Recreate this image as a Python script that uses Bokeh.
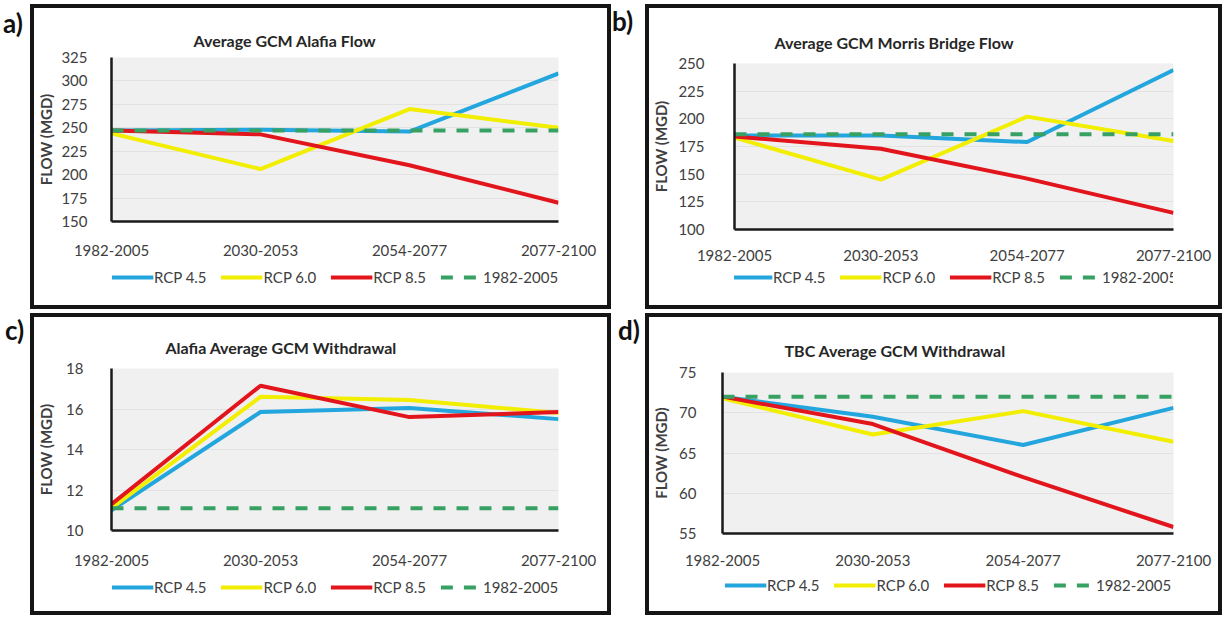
from bokeh.plotting import figure
from bokeh.models import (FixedTicker, Legend, LegendItem, Title, Div, Row,
                          Column, Spacer)
from bokeh.embed import file_html
from bokeh.resources import INLINE

# Time periods on the x axis
periods = ["1982-2005", "2030-2053", "2054-2077", "2077-2100"]
series_labels = ["RCP 4.5", "RCP 6.0", "RCP 8.5", "1982-2005"]

# a) Average GCM Alafia Flow (MGD)
alafia_flow_rcp45 = [247, 248, 246, 308]
alafia_flow_rcp60 = [244, 206, 270, 250]
alafia_flow_rcp85 = [247, 243, 210, 170]
alafia_flow_base = [247, 247, 247, 247]

# b) Average GCM Morris Bridge Flow (MGD)
morris_flow_rcp45 = [185, 185, 179, 244]
morris_flow_rcp60 = [183, 145, 202, 180]
morris_flow_rcp85 = [184, 173, 146, 115]
morris_flow_base = [186, 186, 186, 186]

# c) Alafia Average GCM Withdrawal (MGD)
alafia_wd_rcp45 = [11.0, 15.85, 16.05, 15.5]
alafia_wd_rcp60 = [11.1, 16.6, 16.45, 15.8]
alafia_wd_rcp85 = [11.3, 17.15, 15.6, 15.85]
alafia_wd_base = [11.1, 11.1, 11.1, 11.1]

# d) TBC Average GCM Withdrawal (MGD)
tbc_wd_rcp45 = [72.0, 69.5, 66.0, 70.6]
tbc_wd_rcp60 = [71.8, 67.3, 70.2, 66.4]
tbc_wd_rcp85 = [72.0, 68.6, 62.0, 55.8]
tbc_wd_base = [72.0, 72.0, 72.0, 72.0]

FONT = "Lato"
TEXT_GREY = "#404040"
COLORS = ["#22a6dd", "#f2ee00", "#e3151c", "#37a063"]
DASHES = ["solid", "solid", "solid", "12 11"]


def make_chart(title, series, y_ticks, width, height, borders,
               title_offset, title_standoff, ytick_standoff, ylab_standoff,
               xtick_standoff):
    left, right, top, bottom = borders
    xs = list(range(len(periods)))
    p = figure(width=width, height=height, x_range=(xs[0], xs[-1]),
               y_range=(y_ticks[0], y_ticks[-1]), output_backend="svg",
               toolbar_location=None, min_border_left=left,
               min_border_right=right, min_border_top=top,
               min_border_bottom=bottom)
    p.background_fill_color = "#f0f0f0"
    p.border_fill_color = "white"
    p.outline_line_color = None

    p.title = Title(text=title, align="left", offset=title_offset,
                    standoff=title_standoff, text_font=FONT,
                    text_font_size="16px", text_font_style="bold",
                    text_color="#262626")

    for ys, color, dash in zip(series, COLORS, DASHES):
        p.line(xs, ys, line_color=color, line_width=4, line_dash=dash)

    # axes
    p.xaxis.ticker = FixedTicker(ticks=xs)
    p.xaxis.major_label_overrides = {x: lab for x, lab in zip(xs, periods)}
    p.yaxis.ticker = FixedTicker(ticks=y_ticks)
    for ax in (p.xaxis, p.yaxis):
        ax.axis_line_color = "#1a1a1a"
        ax.axis_line_width = 2.5
        ax.major_tick_line_color = None
        ax.minor_tick_line_color = None
        ax.major_label_text_font = FONT
        ax.major_label_text_font_size = "15px"
        ax.major_label_text_color = TEXT_GREY
    p.xaxis.major_label_standoff = xtick_standoff
    p.yaxis.major_label_standoff = ytick_standoff
    p.yaxis.axis_label = "FLOW (MGD)"
    p.yaxis.axis_label_text_font = FONT
    p.yaxis.axis_label_text_font_size = "15px"
    p.yaxis.axis_label_text_font_style = "bold"
    p.yaxis.axis_label_text_color = TEXT_GREY
    p.yaxis.axis_label_standoff = ylab_standoff

    p.xgrid.grid_line_color = None
    p.ygrid.grid_line_color = "#e2e2e2"
    p.ygrid.grid_line_width = 1
    return p


def make_legend_strip(series, width, height, padding):
    # horizontal key under each chart; the series sit outside this
    # strip's (0, 1) view, so only their legend swatches are drawn
    xs = list(range(len(periods)))
    p = figure(width=width, height=height, x_range=(0, 1), y_range=(0, 1),
               output_backend="svg", toolbar_location=None, min_border=0)
    p.axis.visible = False
    p.grid.visible = False
    p.outline_line_color = None
    p.background_fill_color = "white"
    p.border_fill_color = "white"
    items = []
    for lab, ys, color, dash in zip(series_labels, series, COLORS, DASHES):
        r = p.line(xs, ys, line_color=color, line_width=4, line_dash=dash)
        items.append(LegendItem(label=lab, renderers=[r]))
    legend = Legend(items=items, orientation="horizontal",
                    location="top_center", glyph_width=42, glyph_height=16,
                    label_standoff=1, spacing=14, padding=padding, margin=0,
                    border_line_alpha=0, background_fill_alpha=0,
                    label_text_font=FONT, label_text_font_size="15px",
                    label_text_color=TEXT_GREY)
    p.add_layout(legend)
    return p


def panel(chart, strip, width, height):
    return Column(children=[chart, strip], width=width, height=height,
                  styles={"outline": "4px solid #151515"})


def tag(letter, width, height, top, left):
    return Div(text=f'<div style="margin-top:{top}px;margin-left:{left}px;'
                    f'font-family:Lato;font-size:26px;font-weight:bold;'
                    f'line-height:1;color:#111;">{letter})</div>',
               width=width, height=height, margin=0)


series_a = [alafia_flow_rcp45, alafia_flow_rcp60, alafia_flow_rcp85, alafia_flow_base]
series_b = [morris_flow_rcp45, morris_flow_rcp60, morris_flow_rcp85, morris_flow_base]
series_c = [alafia_wd_rcp45, alafia_wd_rcp60, alafia_wd_rcp85, alafia_wd_base]
series_d = [tbc_wd_rcp45, tbc_wd_rcp60, tbc_wd_rcp85, tbc_wd_base]

pa = panel(make_chart("Average GCM Alafia Flow", series_a,
                      [150, 175, 200, 225, 250, 275, 300, 325],
                      573, 254, (74, 49, 49, 41), 82, 16, 18, 3, 17),
           make_legend_strip(series_a, 573, 43, 6), 573, 297)
pb = panel(make_chart("Average GCM Morris Bridge Flow", series_b,
                      [100, 125, 150, 175, 200, 225, 250],
                      569, 258, (76, 45, 55, 37), 40, 23, 24, 5, 14),
           make_legend_strip(series_b, 569, 39, 2), 569, 297)
pc = panel(make_chart("Alafia Average GCM Withdrawal", series_c,
                      [10, 12, 14, 16, 18],
                      573, 253, (69, 49, 51, 40), 54, 23, 22, 8, 18),
           make_legend_strip(series_c, 573, 41, 8), 573, 294)
pd_ = panel(make_chart("TBC Average GCM Withdrawal", series_d,
                       [55, 60, 65, 70, 75],
                       569, 253, (71, 45, 55, 37), 62, 26, 20, 6, 15),
            make_legend_strip(series_d, 569, 41, 6), 569, 294)

top_row = Row(children=[tag("a", 34, 297, 2, 3), pa, tag("b", 42, 297, 0, 5), pb],
              width=1218, height=297)
bottom_row = Row(children=[tag("c", 34, 294, 0, 5), pc, tag("d", 42, 294, 0, 11), pd_],
                 width=1218, height=294)
layout = Column(children=[Spacer(width=1218, height=8), top_row,
                          Spacer(width=1218, height=12), bottom_row],
                width=1218, height=611)

open("out.html", "w").write(file_html(layout, INLINE))
